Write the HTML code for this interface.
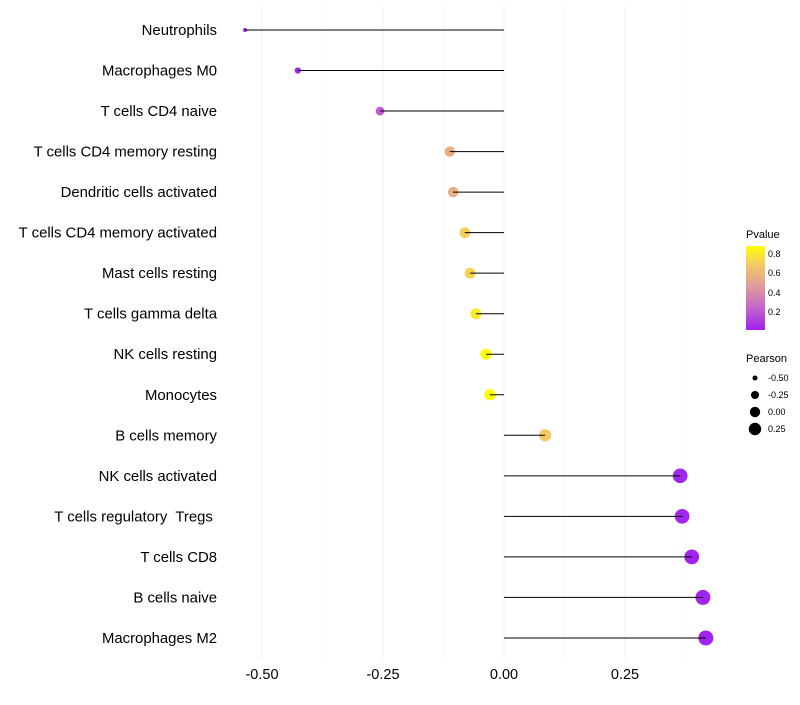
<!DOCTYPE html>
<html><head><meta charset="utf-8"><style>
body{margin:0;background:#fff;font-family:"Liberation Sans",sans-serif}
text{white-space:pre}
</style></head><body>
<svg id="chart" width="800" height="700" xmlns="http://www.w3.org/2000/svg">
<defs><linearGradient id="pg" x1="0" y1="1" x2="0" y2="0">
<stop offset="0" stop-color="#a020f0"/><stop offset="0.25" stop-color="#c262cc"/><stop offset="0.5" stop-color="#dc98a0"/><stop offset="0.75" stop-color="#f2c470"/><stop offset="1" stop-color="#ffff00"/>
</linearGradient></defs>
<g id="grid"></g><g id="marks"></g><g id="labels"></g>
<g>
<text x="746" y="238" font-size="11" fill="#000">Pvalue</text>
<rect x="746" y="246" width="19" height="84" fill="url(#pg)"/>
<g font-size="9" fill="#000"><text x="768" y="257">0.8</text><text x="768" y="276">0.6</text><text x="768" y="296">0.4</text><text x="768" y="315">0.2</text></g>
</g>
<g>
<text x="746" y="362" font-size="11" fill="#000">Pearson</text>
<circle cx="755" cy="378" r="2.5"/><circle cx="755" cy="395" r="4"/><circle cx="755" cy="412" r="5.2"/><circle cx="755" cy="429" r="6.2"/>
<g font-size="9" fill="#000"><text x="768" y="381">-0.50</text><text x="768" y="398">-0.25</text><text x="768" y="415">0.00</text><text x="768" y="432">0.25</text></g>
</g>
</svg>
<script>
const categories=["Neutrophils","Macrophages M0","T cells CD4 naive","T cells CD4 memory resting","Dendritic cells activated","T cells CD4 memory activated","Mast cells resting","T cells gamma delta","NK cells resting","Monocytes","B cells memory","NK cells activated","T cells regulatory  Tregs ","T cells CD8","B cells naive","Macrophages M2"];
const pearson=[-0.535,-0.426,-0.256,-0.112,-0.105,-0.081,-0.070,-0.058,-0.037,-0.029,0.085,0.364,0.368,0.388,0.411,0.417];
const pvalues=[0.01,0.02,0.2,0.55,0.55,0.7,0.72,0.8,0.92,0.92,0.68,0.02,0.02,0.01,0.01,0.01];
const ticks=[-0.5,-0.25,0,0.25];
const tickLabels=["-0.50","-0.25","0.00","0.25"];
const NS="http://www.w3.org/2000/svg";
const x=v=>504+v*484;
const y=i=>30+i*40.53;
const stops=[[0,[160,32,240]],[0.22,[194,98,204]],[0.44,[220,152,160]],[0.66,[242,196,112]],[0.88,[255,255,0]]];
function col(p){p=Math.max(0,Math.min(0.88,p));for(let k=1;k<stops.length;k++){if(p<=stops[k][0]){const a=stops[k-1],b=stops[k],t=(p-a[0])/(b[0]-a[0]);return 'rgb('+a[1].map((c,j)=>Math.round(c+(b[1][j]-c)*t)).join(',')+')';}}return 'rgb(255,255,0)';}
const rad=v=>Math.sqrt(Math.max(2,4+(v+0.535)*55));
function mk(t,a,p){const e=document.createElementNS(NS,t);for(const k in a)e.setAttribute(k,a[k]);p.appendChild(e);return e;}
const grid=document.getElementById('grid'),marks=document.getElementById('marks'),labels=document.getElementById('labels');
[-0.375,-0.125,0.125,0.375].forEach(v=>{const l=mk('line',{x1:x(v),x2:x(v),y1:5,y2:660,stroke:'#f8f8f8','stroke-width':1},grid);

});
ticks.forEach((v,i)=>{const l=mk('line',{x1:x(v),x2:x(v),y1:5,y2:660,stroke:'#f1f1f1','stroke-width':1},grid);


const t=mk('text',{x:x(v),y:679,'text-anchor':'middle','font-size':14.5,fill:'#000'},labels);t.textContent=tickLabels[i];

});
categories.forEach((c,i)=>{const t=mk('text',{x:217,y:y(i)+5,'text-anchor':'end','font-size':14.9,fill:'#000'},labels);t.textContent=c;


const ci=mk('circle',{cx:x(pearson[i]),cy:y(i),r:rad(pearson[i]),fill:col(pvalues[i])},marks);


const s=mk('line',{x1:x(0),x2:x(pearson[i]),y1:y(i),y2:y(i),stroke:'#000','stroke-width':1},marks);

});
</script>
</body></html>
